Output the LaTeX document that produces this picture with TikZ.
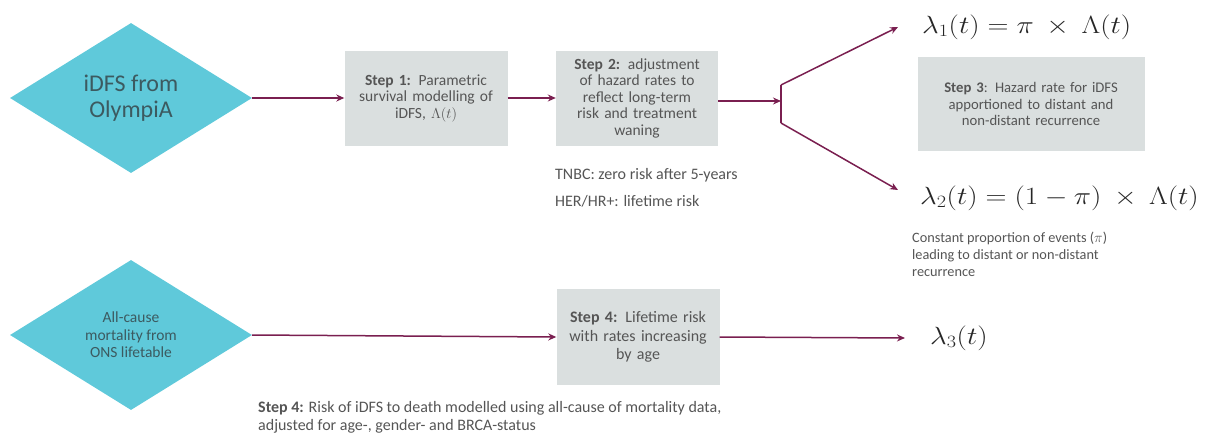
\documentclass[tikz,border=0pt]{standalone}
\usepackage{fontspec}
\usepackage{amsmath}
\usepackage{graphicx}
\setmainfont{Carlito}
\usetikzlibrary{shapes.geometric,arrows.meta}
\definecolor{dia}{HTML}{5FC9DA}
\definecolor{boxg}{HTML}{DADFDF}
\definecolor{arr}{HTML}{7A1F50}
\definecolor{txt}{HTML}{555555}
\definecolor{diatxt}{HTML}{3C5A60}
% wide math, as set in the equations
\newcommand{\wmath}[1]{\scalebox{1.17}[1]{$#1$}}
\tikzset{
  dianode/.style={diamond, fill=dia, draw=none, inner sep=0pt, align=center, text=diatxt},
  stepbox/.style={rectangle, fill=boxg, draw=none, align=center, text=txt,
    font=\fontsize{15.5}{16.5}\selectfont},
  flow/.style={draw=arr, line width=1.5pt, -{Stealth[length=8pt,width=7pt]}},
  plain/.style={draw=arr, line width=1.5pt},
  note/.style={text=txt, align=left, anchor=west, inner sep=0pt},
  eq/.style={anchor=west, inner sep=0pt, text=black!85, font=\fontsize{23}{26}\selectfont}
}
\begin{document}
\begin{tikzpicture}[x=1pt,y=-1pt]
\useasboundingbox (0,0) rectangle (1207,434);

% upper row
\node[dianode, minimum width=242pt, minimum height=150pt,
  font=\fontsize{24}{26}\selectfont] (d1) at (131,98) {iDFS from\\OlympiA};
\node[stepbox, minimum width=163pt, minimum height=95pt, text width=155pt] (s1) at (426,98)
  {\textbf{Step 1:} Parametric\\survival modelling of\\iDFS, $\Lambda(t)$};
\node[stepbox, minimum width=162pt, minimum height=95pt, text width=155pt] (s2) at (637,98)
  {\textbf{Step 2:} adjustment\\of hazard rates to\\reflect long-term\\risk and treatment\\waning};
\coordinate (br) at (781,101);
\coordinate (bt) at (781,85);
\coordinate (bb) at (781,123);

\node[eq] (l1) at (922,27) {\wmath{\lambda_1(t) = \pi\ \times\ \Lambda(t)}};
\node[stepbox, minimum width=227pt, minimum height=94pt, text width=215pt,
  font=\fontsize{14.7}{16.5}\selectfont] (s3) at (1031,104)
  {\textbf{Step 3}: Hazard rate for iDFS\\apportioned to distant and\\non-distant recurrence};
\node[eq] (l2) at (920,198) {\wmath{\lambda_2(t) = (1-\pi)\ \times\ \Lambda(t)}};

\node[note, font=\fontsize{16}{27}\selectfont] (n2) at (555,188)
  {TNBC: zero risk after 5-years\\HER/HR+: lifetime risk};
\node[note, font=\fontsize{14.3}{17}\selectfont] (n3) at (912,254)
  {Constant proportion of events ($\pi$)\\leading to distant or non-distant\\recurrence};

\draw[flow] (d1.east) -- (s1.west);
\draw[flow] (s1.east) -- (s2.west);
\draw[flow] (s2.east |- br) -- (br);
\draw[plain] (bt) -- (bb);
\draw[flow] (bt) -- ([xshift=-24pt]l1.west);
\draw[flow] (bb) -- ([xshift=-22pt,yshift=8pt]l2.west);

% lower row
\node[dianode, minimum width=242pt, minimum height=150pt,
  font=\fontsize{15.5}{17.5}\selectfont] (d2) at (131,335) {All-cause\\mortality from\\ONS lifetable};
\node[stepbox, minimum width=163pt, minimum height=96pt, text width=155pt,
  font=\fontsize{16}{18.5}\selectfont] (s4) at (638,337)
  {\textbf{Step 4:} Lifetime risk\\with rates increasing\\by age};
\node[eq] (l3) at (930,338) {\wmath{\lambda_3(t)}};
\node[note, font=\fontsize{16}{18}\selectfont] (n4) at (258,417)
  {\textbf{Step 4:} Risk of iDFS to death modelled using all-cause of mortality data,\\adjusted for age-, gender- and BRCA-status};

\draw[flow] (d2.east) -- (s4.west);
\draw[flow] (s4.east) -- ([xshift=-25pt]l3.west);
\end{tikzpicture}
\end{document}
